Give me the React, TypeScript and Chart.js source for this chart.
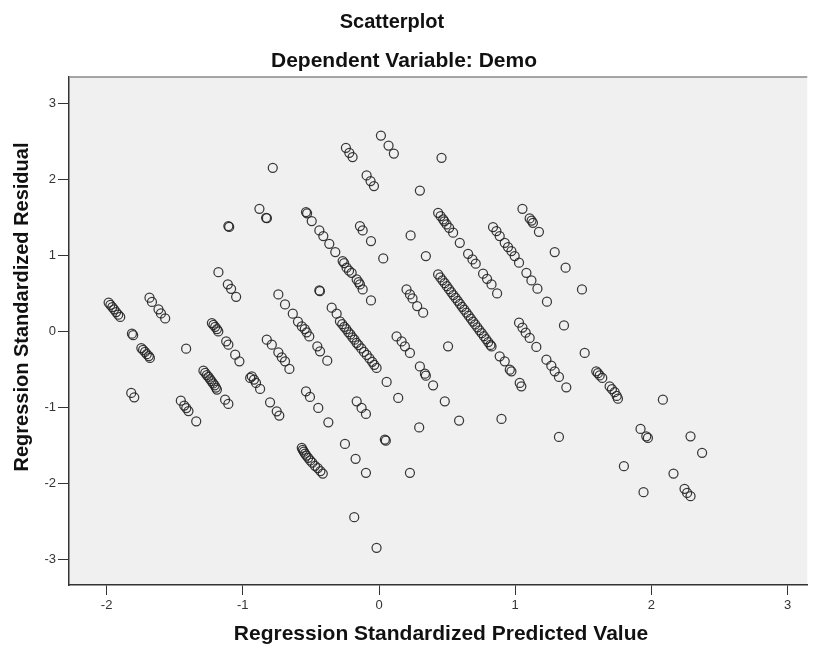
import React, { useEffect, useRef } from "react";
import { Chart, registerables } from "chart.js";

Chart.register(...registerables);

// [predicted, residual] pairs, grouped by region of the plot
const groupFarLeft: [number, number][] = [
  [-1.985, 0.38], [-1.972, 0.35], [-1.958, 0.32], [-1.945, 0.29], [-1.93, 0.255], [-1.915, 0.22], [-1.9, 0.19],
  [-1.814, -0.03], [-1.805, -0.05],
  [-1.745, -0.22], [-1.732, -0.245], [-1.718, -0.27], [-1.705, -0.3], [-1.69, -0.325], [-1.682, -0.35],
  [-1.685, 0.443], [-1.667, 0.387], [-1.619, 0.29], [-1.601, 0.237], [-1.57, 0.171],
  [-1.819, -0.81], [-1.797, -0.868],
  [-1.416, -0.228],
  [-1.455, -0.912], [-1.43, -0.977], [-1.415, -1.01], [-1.399, -1.05], [-1.342, -1.184],
];

const groupLeft: [number, number][] = [
  [-1.227, 0.11], [-1.215, 0.085], [-1.203, 0.06], [-1.19, 0.03], [-1.18, 0.0],
  [-1.179, 0.78],
  [-1.122, -0.13], [-1.106, -0.175], [-1.056, -0.307], [-1.025, -0.395],
  [-0.946, -0.613],
  [-1.289, -0.517], [-1.276, -0.545], [-1.264, -0.575], [-1.252, -0.6], [-1.24, -0.63],
  [-1.23, -0.655], [-1.218, -0.685], [-1.207, -0.71], [-1.198, -0.74], [-1.19, -0.767],
  [-1.13, -0.9], [-1.106, -0.955],
  [-1.106, 1.387], [-1.1, 1.375],
  [-1.11, 0.62], [-1.086, 0.56], [-1.049, 0.456],
];

const groupMidLeft: [number, number][] = [
  [-0.78, 2.154],
  [-0.878, 1.614], [-0.829, 1.496], [-0.823, 1.49],
  [-0.739, 0.487], [-0.69, 0.355], [-0.633, 0.233], [-0.595, 0.13], [-0.567, 0.066], [-0.545, 0.03], [-0.531, -0.013], [-0.512, -0.066],
  [-0.824, -0.109], [-0.787, -0.175], [-0.739, -0.276], [-0.714, -0.342], [-0.69, -0.395], [-0.658, -0.495],
  [-0.934, -0.592], [-0.918, -0.635], [-0.903, -0.679], [-0.873, -0.758],
  [-0.8, -0.934], [-0.751, -1.053], [-0.732, -1.109],
  [-0.453, -0.197], [-0.433, -0.263], [-0.38, -0.386],
  [-0.536, -0.789], [-0.507, -0.863], [-0.446, -1.008], [-0.372, -1.197],
  [-0.567, -1.534], [-0.56, -1.56], [-0.552, -1.585], [-0.543, -1.61], [-0.533, -1.635], [-0.52, -1.665],
  [-0.505, -1.7], [-0.49, -1.73], [-0.47, -1.77], [-0.45, -1.8], [-0.43, -1.84], [-0.413, -1.872],
  [-0.536, 1.571], [-0.528, 1.555], [-0.494, 1.453], [-0.438, 1.329], [-0.409, 1.255], [-0.365, 1.154],
  [-0.438, 0.54], [-0.434, 0.53],
  [-0.3475, 0.312], [-0.311, 0.233],
];

const groupCenter: [number, number][] = [
  [-0.25, -1.482], [-0.172, -1.679], [-0.096, -1.863], [-0.182, -2.447], [-0.018, -2.85],
  [-0.287, 0.132], [-0.27, 0.095], [-0.255, 0.06], [-0.24, 0.03], [-0.225, -0.01], [-0.21, -0.04],
  [-0.195, -0.08], [-0.18, -0.11], [-0.165, -0.15], [-0.15, -0.18], [-0.13, -0.225], [-0.11, -0.27],
  [-0.09, -0.31], [-0.07, -0.355], [-0.05, -0.4], [-0.035, -0.44], [-0.018, -0.482],
  [0.056, -0.666], [0.141, -0.876],
  [-0.164, -0.921], [-0.128, -1.008], [-0.096, -1.087],
  [0.043, -1.425], [0.05, -1.44],
  [0.227, -1.863], [0.295, -1.265],
  [0.129, -0.066], [0.166, -0.132], [0.19, -0.197], [0.227, -0.284],
  [0.3, -0.461], [0.337, -0.557], [0.344, -0.583], [0.397, -0.71],
  [-0.321, 1.045], [-0.267, 0.926], [-0.256, 0.9], [-0.238, 0.838], [-0.22, 0.8], [-0.201, 0.772],
  [-0.164, 0.684], [-0.15, 0.65], [-0.14, 0.618], [-0.12, 0.553], [-0.059, 0.408],
  [-0.243, 2.417], [-0.218, 2.351], [-0.194, 2.295], [0.014, 2.579], [0.07, 2.447], [0.109, 2.342],
  [-0.091, 2.053], [-0.062, 1.979], [-0.037, 1.913], [-0.14, 1.387], [-0.12, 1.329], [-0.059, 1.189],
  [0.031, 0.96], [0.232, 1.263], [0.3, 1.855],
  [0.202, 0.553], [0.227, 0.487], [0.246, 0.434], [0.28, 0.334], [0.324, 0.246],
  [0.459, 2.286], [0.344, 0.992],
];

const groupMidRight: [number, number][] = [
  [0.434, 1.562], [0.452, 1.518], [0.471, 1.474], [0.48, 1.45], [0.496, 1.408], [0.515, 1.364], [0.544, 1.299],
  [0.593, 1.167], [0.654, 1.022], [0.686, 0.947], [0.71, 0.891], [0.764, 0.759], [0.793, 0.693], [0.826, 0.618], [0.867, 0.5],
  [0.837, 1.374], [0.862, 1.321], [0.886, 1.255], [0.923, 1.167], [0.947, 1.11], [0.972, 1.058], [0.996, 0.992], [1.028, 0.904],
  [0.434, 0.75], [0.45, 0.711], [0.466, 0.673], [0.482, 0.634], [0.498, 0.595], [0.514, 0.556],
  [0.53, 0.518], [0.546, 0.479], [0.562, 0.44], [0.578, 0.402], [0.594, 0.363], [0.61, 0.324],
  [0.626, 0.285], [0.642, 0.247], [0.658, 0.208], [0.674, 0.169], [0.69, 0.13], [0.706, 0.092],
  [0.722, 0.053], [0.738, 0.014], [0.754, -0.024], [0.77, -0.063], [0.786, -0.102], [0.802, -0.141],
  [0.818, -0.179], [0.826, -0.199],
  [0.507, -0.197], [0.483, -0.921], [0.588, -1.175],
  [0.886, -0.329], [0.923, -0.395], [0.96, -0.504], [0.972, -0.526], [1.033, -0.679], [1.045, -0.724], [0.899, -1.153],
];

const groupRight: [number, number][] = [
  [1.082, 0.772], [1.119, 0.671], [1.163, 0.562], [1.233, 0.391],
  [1.053, 1.614], [1.106, 1.487], [1.12, 1.46], [1.13, 1.43], [1.174, 1.312],
  [1.29, 1.045], [1.37, 0.838], [1.49, 0.553], [1.358, 0.079],
  [1.028, 0.114], [1.053, 0.05], [1.077, -0.017], [1.106, -0.087], [1.155, -0.205],
  [1.229, -0.372], [1.265, -0.451], [1.29, -0.526], [1.321, -0.6], [1.375, -0.737],
  [1.51, -0.284], [1.321, -1.39],
  [1.595, -0.526], [1.607, -0.55], [1.62, -0.58], [1.639, -0.613],
  [1.693, -0.724], [1.71, -0.76], [1.73, -0.8], [1.745, -0.85], [1.754, -0.886],
  [2.084, -0.899], [1.92, -1.285], [1.962, -1.382], [1.974, -1.403], [2.287, -1.382], [2.372, -1.6],
  [1.798, -1.776], [1.942, -2.118], [2.162, -1.872], [2.243, -2.074], [2.262, -2.127], [2.287, -2.171],
];

const xTicks = [-2, -1, 0, 1, 2, 3];
const yTicks = [-3, -2, -1, 0, 1, 2, 3];
const xRange = [-2.276, 3.144];
const yRange = [-3.34, 3.35];

const chartTitle = "Scatterplot";
const chartSubtitle = "Dependent Variable: Demo";
const xTitle = "Regression Standardized Predicted Value";
const yTitle = "Regression Standardized Residual";

const FONT = '"Liberation Sans", Arial, "DejaVu Sans", sans-serif';

export default function App() {
  const ref = useRef<HTMLCanvasElement | null>(null);

  useEffect(() => {
    if (!ref.current) return;
    const all = [
      ...groupFarLeft,
      ...groupLeft,
      ...groupMidLeft,
      ...groupCenter,
      ...groupMidRight,
      ...groupRight,
    ].map(([x, y]) => ({ x, y }));

    const decor = {
      id: "decor",
      beforeDraw(chart: any) {
        const { ctx, chartArea } = chart;
        ctx.save();
        ctx.fillStyle = "#ffffff";
        ctx.fillRect(0, 0, chart.width, chart.height);
        ctx.fillStyle = "#f0f0f0";
        ctx.fillRect(chartArea.left, chartArea.top, chartArea.right - chartArea.left, chartArea.bottom - chartArea.top);
        ctx.restore();
      },
      afterDraw(chart: any) {
        const { ctx, chartArea } = chart;
        ctx.save();
        ctx.strokeStyle = "#8a8a8a";
        ctx.lineWidth = 1.5;
        ctx.beginPath();
        ctx.moveTo(chartArea.left, chartArea.top);
        ctx.lineTo(chartArea.right, chartArea.top);
        ctx.stroke();

        ctx.fillStyle = "#111111";
        ctx.textAlign = "center";
        ctx.textBaseline = "middle";
        ctx.font = `bold 20px ${FONT}`;
        ctx.fillText(chartTitle, 392, 22);
        ctx.font = `bold 21px ${FONT}`;
        ctx.fillText(chartSubtitle, 404, 61);
        ctx.fillText(xTitle, 441, 634);
        ctx.font = `bold 20px ${FONT}`;
        ctx.translate(22, 307);
        ctx.rotate(-Math.PI / 2);
        ctx.fillText(yTitle, 0, 0);
        ctx.restore();
      },
    };

    const chart = new Chart(ref.current, {
      type: "scatter",
      data: {
        datasets: [
          {
            data: all,
            pointRadius: 4.5,
            pointHoverRadius: 4.5,
            pointBorderWidth: 1.25,
            pointBorderColor: "rgba(35,35,35,0.9)",
            pointBackgroundColor: "rgba(0,0,0,0)",
            showLine: false,
          },
        ],
      },
      options: {
        animation: false,
        responsive: false,
        devicePixelRatio: 1,
        layout: { padding: { top: 77, right: 5, left: 0, bottom: 0 } },
        plugins: {
          legend: { display: false },
          tooltip: { enabled: false },
          title: { display: false },
        },
        scales: {
          x: {
            type: "linear",
            position: "bottom",
            min: xRange[0],
            max: xRange[1],
            afterFit: (s: any) => {
              s.height = 65;
            },
            afterBuildTicks: (s: any) => {
              s.ticks = xTicks.map((v) => ({ value: v }));
            },
            ticks: {
              includeBounds: false,
              color: "#333333",
              font: { family: FONT, size: 13 },
              padding: 3,
              maxRotation: 0,
              callback: (v: any) => String(v),
            },
            grid: { drawOnChartArea: false, drawTicks: true, tickLength: 10, color: "#333333", lineWidth: 1 },
            border: { display: true, color: "#333333", width: 1.5 },
          },
          y: {
            type: "linear",
            position: "left",
            min: yRange[0],
            max: yRange[1],
            afterFit: (s: any) => {
              s.width = 69;
            },
            afterBuildTicks: (s: any) => {
              s.ticks = yTicks.map((v) => ({ value: v }));
            },
            ticks: {
              includeBounds: false,
              color: "#333333",
              font: { family: FONT, size: 13 },
              padding: 2,
              callback: (v: any) => String(v),
            },
            grid: { drawOnChartArea: false, drawTicks: true, tickLength: 11, color: "#333333", lineWidth: 1 },
            border: { display: true, color: "#333333", width: 1.5 },
          },
        },
      },
      plugins: [decor],
    } as any);

    return () => chart.destroy();
  }, []);

  return (
    <div style={{ position: "fixed", left: 0, top: 0, width: 813, height: 650, background: "#fff" }}>
      <canvas ref={ref} width={813} height={650} style={{ width: 813, height: 650, display: "block" }} />
    </div>
  );
}
